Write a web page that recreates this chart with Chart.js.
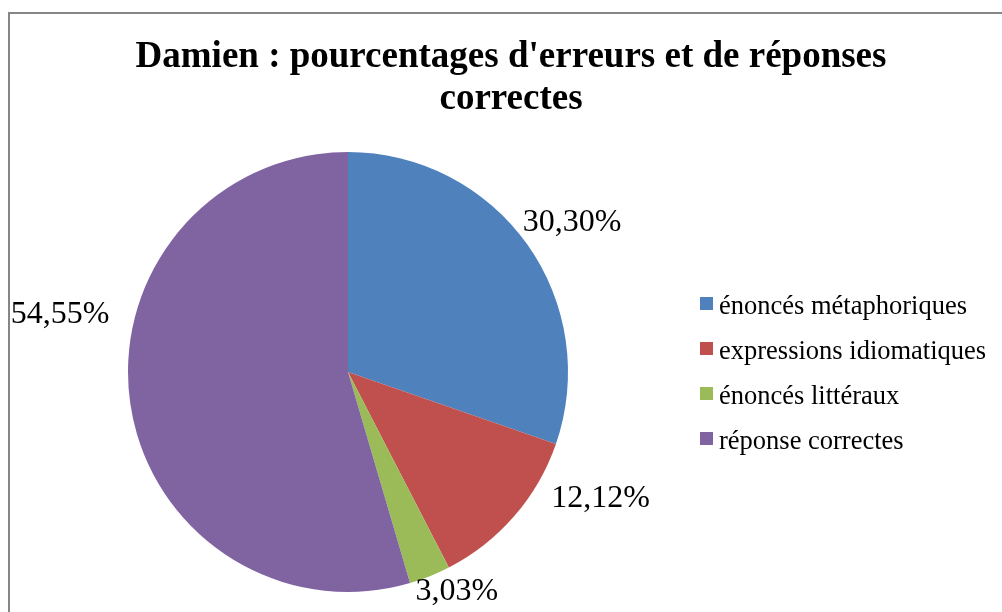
<!DOCTYPE html>
<html>
<head>
<meta charset="utf-8">
<script src="https://cdn.jsdelivr.net/npm/chart.js@4"></script>
<style>
  html, body { margin: 0; padding: 0; background: #fff; overflow: hidden; }
  body { width: 1002px; height: 612px; position: relative; }
  #frame { position: absolute; left: 8px; top: 12px; width: 1100px; height: 700px; border: 2px solid #868686; box-sizing: border-box; }
  #wrap { position: absolute; left: 0; top: 0; width: 1002px; height: 612px; }
</style>
</head>
<body>
<div id="frame"></div>
<div id="wrap"><canvas id="pie" width="1002" height="612"></canvas></div>
<script>
// données
const titleLines = ["Damien : pourcentages d'erreurs et de réponses", "correctes"];
const categories = ["énoncés métaphoriques", "expressions idiomatiques", "énoncés littéraux", "réponse correctes"];
const percentages = [30.30, 12.12, 3.03, 54.55];
const colors = ["#4F81BD", "#C0504D", "#9BBB59", "#8064A2"];

const serif = "'Liberation Serif', 'Times New Roman', serif";

// petits réglages de placement des étiquettes (degrés, écart en px)
const labelShift = [{ a: -2, g: 13 }, { a: -11, g: 22 }, { a: -2, g: 8 }, { a: 21, g: 26 }];

const fmt = v => v.toFixed(2).replace(".", ",") + "%";

const extras = {
    id: "extras",
    afterDraw(chart) {
        const ctx = chart.ctx;
        ctx.save();
        ctx.fillStyle = "#000";

        // titre
        ctx.font = "bold 37px " + serif;
        ctx.textAlign = "center";
        ctx.textBaseline = "alphabetic";
        ctx.fillText(titleLines[0], 511, 67);
        ctx.fillText(titleLines[1], 511, 109);

        // étiquettes autour du camembert
        ctx.font = "32px " + serif;
        ctx.textBaseline = "middle";
        const meta = chart.getDatasetMeta(0);
        meta.data.forEach((arc, i) => {
            const p = arc.getProps(["x", "y", "startAngle", "endAngle", "outerRadius"], true);
            const s = labelShift[i];
            const mid = (p.startAngle + p.endAngle) / 2 + s.a * Math.PI / 180;
            const ux = Math.cos(mid), uy = Math.sin(mid);
            const txt = fmt(chart.data.datasets[0].data[i]);
            const w = ctx.measureText(txt).width;
            const h = 24;
            const ax = p.x + ux * (p.outerRadius + s.g);
            const ay = p.y + uy * (p.outerRadius + s.g);
            ctx.fillText(txt, ax + ux * w / 2, ay + uy * h / 2);
        });

        // légende
        ctx.font = "26.5px " + serif;
        ctx.textAlign = "left";
        ctx.textBaseline = "alphabetic";
        chart.data.labels.forEach((lab, i) => {
            const y = 303.5 + i * 45;
            ctx.fillStyle = chart.data.datasets[0].backgroundColor[i];
            ctx.fillRect(700, Math.round(y - 6.5), 13, 13);
            ctx.fillStyle = "#000";
            ctx.fillText(lab, 719, y + 10);
        });
        ctx.restore();
    }
};

new Chart(document.getElementById("pie"), {
    type: "pie",
    data: {
        labels: categories,
        datasets: [{
            data: percentages,
            backgroundColor: colors,
            borderWidth: 0
        }]
    },
    options: {
        responsive: false,
        animation: false,
        layout: { padding: { left: 128, right: 434, top: 152, bottom: 20 } },
        plugins: {
            legend: { display: false },
            title: { display: false },
            tooltip: { enabled: false }
        }
    },
    plugins: [extras]
});
</script>
</body>
</html>
